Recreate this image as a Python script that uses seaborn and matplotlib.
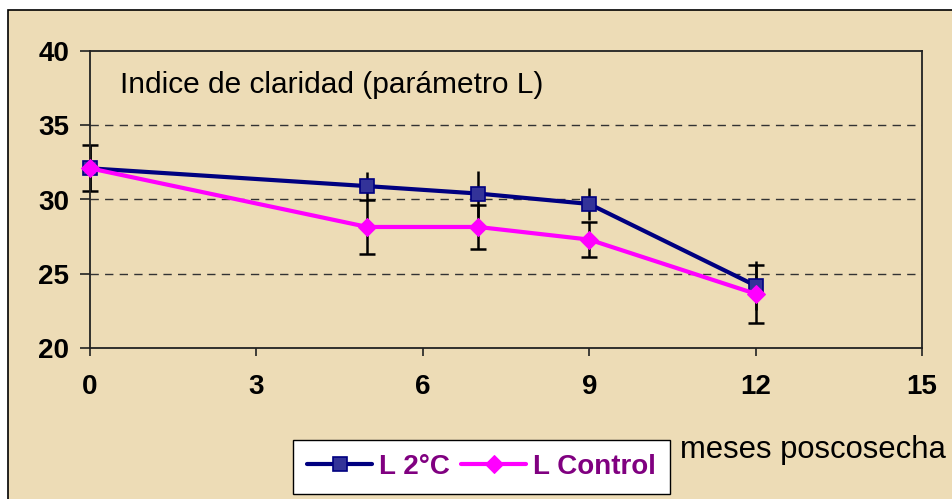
import matplotlib
matplotlib.use("Agg")
import matplotlib.pyplot as plt
from matplotlib.patches import Rectangle
import seaborn as sns
import pandas as pd

# ---- data ----
months = [0, 5, 7, 9, 12]
l_2c = [32.1, 30.9, 30.4, 29.7, 24.2]
l_2c_err = [1.5, 0.95, 1.55, 1.05, 1.65]
l_control = [32.1, 28.15, 28.15, 27.3, 23.65]
l_control_err = [1.55, 1.8, 1.5, 1.2, 1.95]
series_names = ["L 2°C", "L Control"]
x_ticks = [0, 3, 6, 9, 12, 15]
y_ticks = [20, 25, 30, 35, 40]
title_text = "Indice de claridad (parámetro L)"
xlabel_text = "meses poscosecha"

df = pd.DataFrame({
    "mes": months * 2,
    "L": l_2c + l_control,
    "serie": [series_names[0]] * len(months) + [series_names[1]] * len(months),
})

sns.set_theme(style="white")
plt.rcParams["font.family"] = ["Liberation Sans", "DejaVu Sans"]

BG = "#EDDCB6"
fig = plt.figure(figsize=(9.52, 4.99), dpi=100)
fig.patch.set_facecolor("white")
bg_rect = Rectangle((8 / 952, -0.5), 1.5, 0.5 + 1 - 10 / 499,
                    transform=fig.transFigure, facecolor=BG,
                    edgecolor="black", linewidth=1.2, zorder=-10)
fig.patches.append(bg_rect)

ax = fig.add_axes([90 / 952, 1 - 348 / 499, (922 - 90) / 952, (348 - 51) / 499])
ax.set_zorder(1)
ax.set_facecolor(BG)

# error bars
eb1 = ax.errorbar(months, l_2c, yerr=l_2c_err, fmt="none", ecolor="black",
                  elinewidth=1.8, capsize=0, zorder=2)
eb2 = ax.errorbar(months, l_control, yerr=l_control_err, fmt="none", ecolor="black",
                  elinewidth=1.8, capsize=6, capthick=1.8, zorder=2)
for eb in (eb1, eb2):
    for part in list(eb.lines[1]) + list(eb.lines[2]):
        part.set_clip_on(False)

palette = {series_names[0]: "#000080", series_names[1]: "#FF00FF"}
sns.lineplot(data=df[df.serie == series_names[0]], x="mes", y="L", ax=ax,
             color=palette[series_names[0]], linewidth=3, marker="s",
             markersize=10, markerfacecolor="#333399",
             markeredgecolor="#000080", markeredgewidth=1.2, zorder=3,
             label=series_names[0], legend=False, clip_on=False)
sns.lineplot(data=df[df.serie == series_names[1]], x="mes", y="L", ax=ax,
             color=palette[series_names[1]], linewidth=3, marker="D",
             markersize=9, markerfacecolor="#FF00FF",
             markeredgecolor="#FF00FF", zorder=4,
             label=series_names[1], legend=False, clip_on=False)

ax.set_xlim(0, 15)
ax.set_ylim(20, 40)
ax.set_xticks(x_ticks)
ax.set_yticks(y_ticks)
ax.set_xlabel("")
ax.set_ylabel("")

for y in y_ticks[1:-1]:
    ax.axhline(y, color="#333333", linewidth=1, linestyle=(0, (6, 4.5)), zorder=1)

for s in ax.spines.values():
    s.set_color("#222222")
    s.set_linewidth(1.3)
    s.set_visible(True)
    s.set_zorder(2.5)

ax.tick_params(axis="y", direction="out", length=7, width=1.2, color="#222222",
               pad=8, labelsize=20, left=True)
ax.tick_params(axis="x", direction="out", length=6, width=1.2, color="#222222",
               pad=13, labelsize=20, bottom=True)
for lab in ax.get_xticklabels() + ax.get_yticklabels():
    lab.set_fontweight("bold")
    lab.set_color("black")

fig.text(120 / 952, 1 - 85 / 499, title_text, fontsize=21.5,
         color="black", va="center", ha="left", zorder=5)
fig.text(680 / 952, 1 - 450 / 499, xlabel_text, fontsize=22.3,
         color="black", va="center", ha="left")

handles, labels = ax.get_legend_handles_labels()
leg = fig.legend(handles, labels, loc="lower left",
                 bbox_to_anchor=(293 / 952, 1 - 494 / 499),
                 bbox_transform=fig.transFigure, ncol=2, frameon=True,
                 fancybox=False, edgecolor="black", framealpha=1,
                 facecolor="white", handlelength=2.35, handletextpad=0.25,
                 columnspacing=0.4, borderpad=0.5, borderaxespad=0,
                 prop={"weight": "bold", "size": 20})
leg.get_frame().set_linewidth(1.0)
for t in leg.get_texts():
    t.set_color("#800080")

fig.savefig("out.png", dpi=100, facecolor=fig.get_facecolor())
